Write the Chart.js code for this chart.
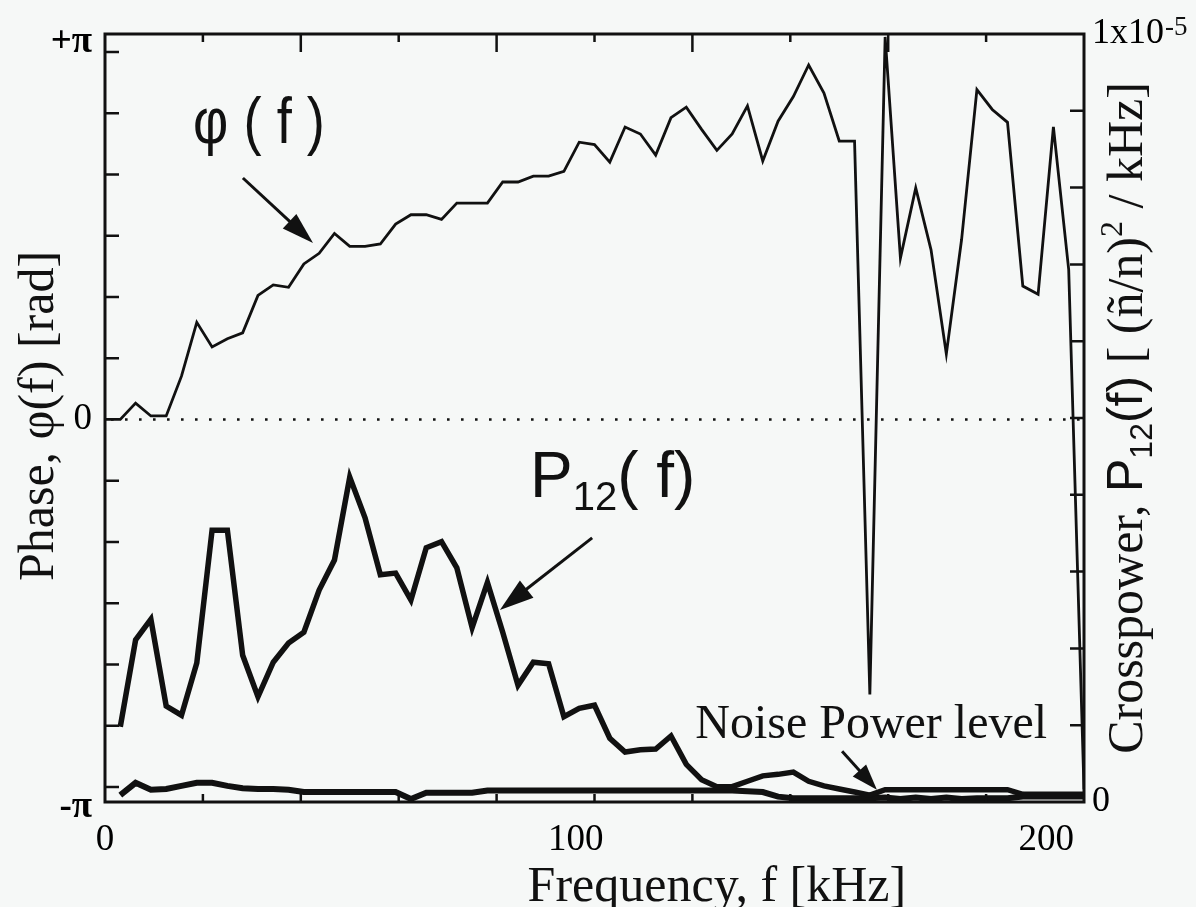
<!DOCTYPE html>
<html>
<head>
<meta charset="utf-8">
<script src="https://cdn.jsdelivr.net/npm/chart.js@4.4.1/dist/chart.umd.min.js"></script>
<style>
  html, body { margin: 0; padding: 0; background: #f6f8f7; }
  #wrap { width: 1196px; height: 907px; position: relative; }
</style>
</head>
<body>
<div id="wrap"><canvas id="chart"></canvas></div>
<script>
// frequency grid, kHz
const freqKHz = [0, 3.25, 6.5, 9.75, 13, 16.25, 19.5, 22.75, 26, 29.25,
  32.5, 35.75, 39, 42.25, 45.5, 48.75, 52, 55.25, 58.5, 61.75,
  65, 68.25, 71.5, 74.75, 78, 81.25, 84.5, 87.75, 91, 94.25,
  97.5, 100.75, 104, 107.25, 110.5, 113.75, 117, 120.25, 123.5, 126.75,
  130, 133.25, 136.5, 139.75, 143, 146.25, 149.5, 152.75, 156, 159.25,
  162.5, 165.75, 169, 172.25, 175.5, 178.75, 182, 185.25, 188.5, 191.75,
  195, 198.25, 201.5, 204.75, 208]
// phase phi(f), rad (left axis)
const phaseRad = [0, 0, 0.14, 0.03, 0.03, 0.37, 0.83, 0.62, 0.69, 0.74,
  1.06, 1.15, 1.13, 1.33, 1.42, 1.59, 1.48, 1.48, 1.50, 1.67,
  1.75, 1.75, 1.71, 1.85, 1.85, 1.85, 2.03, 2.03, 2.08, 2.08,
  2.12, 2.37, 2.35, 2.20, 2.50, 2.44, 2.26, 2.58, 2.67, 2.48,
  2.30, 2.44, 2.68, 2.21, 2.55, 2.76, 3.03, 2.79, 2.38, 2.38,
  -2.35, 3.27, 1.38, 1.98, 1.45, 0.56, 1.54, 2.82, 2.65, 2.54,
  1.14, 1.07, 2.50, 1.28, -3.16]
// crosspower P12(f), units of 1e-6 (n~/n)^2/kHz (right axis)
const crossPower = [null, 0.98, 2.11, 2.38, 1.25, 1.13, 1.81, 3.54, 3.54, 1.91,
  1.37, 1.82, 2.07, 2.21, 2.76, 3.15, 4.23, 3.70, 2.96, 2.98,
  2.63, 3.31, 3.39, 3.05, 2.27, 2.86, 2.21, 1.52, 1.82, 1.80,
  1.11, 1.22, 1.26, 0.83, 0.65, 0.68, 0.69, 0.86, 0.49, 0.29,
  0.20, 0.20, 0.27, 0.34, 0.36, 0.39, 0.27, 0.21, 0.17, 0.13,
  0.09, 0.16, 0.16, 0.16, 0.16, 0.16, 0.16, 0.16, 0.16, 0.16,
  0.10, 0.10, 0.10, 0.10, 0.10]
// noise power level, same units
const noisePower = [null, 0.09, 0.25, 0.16, 0.17, 0.21, 0.25, 0.25, 0.21, 0.18,
  0.17, 0.17, 0.16, 0.13, 0.13, 0.13, 0.13, 0.13, 0.13, 0.13,
  0.04, 0.12, 0.12, 0.12, 0.12, 0.15, 0.15, 0.15, 0.15, 0.15,
  0.15, 0.15, 0.15, 0.15, 0.15, 0.15, 0.15, 0.15, 0.15, 0.15,
  0.15, 0.15, 0.14, 0.13, 0.07, 0.05, 0.05, 0.05, 0.05, 0.05,
  0.05, 0.06, 0.04, 0.06, 0.04, 0.06, 0.04, 0.05, 0.05, 0.05,
  0.07, 0.07, 0.07, 0.07, 0.07]

const freqTicks = [0, 100, 200]
const freqTickLabels = ['0', '100', '200']
const phaseTicks = [-Math.PI, 0, Math.PI]
const phaseTickLabels = [['', '', '-π'], '0', ['+π', '']]
const powerTicks = [0, 10]
const powerTickLabels = ['0', '1x10']
const powerTopExponent = '-5'
const freqFrameTicks = [20.8, 41.6, 62.4, 83.2, 104, 124.8, 145.6, 166.4, 187.2]
const phaseFrameTicks = [-6, -5, -4, -3, -2, -1, 1, 2, 3, 4, 5, 6].map((k) => k * Math.PI / 6)
const powerFrameTicks = [1, 2, 3, 4, 5, 6, 7, 8, 9]

const SERIF = '"Liberation Serif", "Times New Roman", serif'
const SANS = '"Liberation Sans", Arial, sans-serif'
const INK = '#111'

const toPoints = (vals) => freqKHz.map((f, i) => ({ x: f, y: vals[i] }))

function arrow(ctx, x1, y1, x2, y2, head, half) {
  const a = Math.atan2(y2 - y1, x2 - x1)
  const bx = x2 - head * Math.cos(a)
  const by = y2 - head * Math.sin(a)
  ctx.beginPath()
  ctx.moveTo(x1, y1)
  ctx.lineTo(bx + 2 * Math.cos(a), by + 2 * Math.sin(a))
  ctx.stroke()
  ctx.beginPath()
  ctx.moveTo(x2, y2)
  ctx.lineTo(bx + half * Math.sin(a), by - half * Math.cos(a))
  ctx.lineTo(bx - half * Math.sin(a), by + half * Math.cos(a))
  ctx.closePath()
  ctx.fill()
}

function drawRuns(ctx, runs, x, y) {
  let cx = x
  runs.forEach((r) => {
    ctx.font = r.font
    ctx.fillText(r.t, cx, y + (r.dy || 0))
    cx += ctx.measureText(r.t).width
  })
}

function runsWidth(ctx, runs) {
  return runs.reduce((w, r) => { ctx.font = r.font; return w + ctx.measureText(r.t).width }, 0)
}

const frameAndNotes = {
  id: 'frameAndNotes',
  beforeDatasetsDraw(chart) {
    const { ctx, chartArea: a, scales: { y } } = chart
    const y0 = y.getPixelForValue(0)
    ctx.save()
    ctx.strokeStyle = INK
    ctx.lineWidth = 2.6
    ctx.setLineDash([2.6, 11.4])
    ctx.beginPath()
    ctx.moveTo(a.left + 6, y0)
    ctx.lineTo(a.right, y0)
    ctx.stroke()
    ctx.restore()
  },
  afterDatasetsDraw(chart) {
    const { ctx, chartArea: a, scales: { x, y, y2 } } = chart
    ctx.save()
    ctx.strokeStyle = INK
    ctx.fillStyle = INK
    ctx.lineWidth = 3
    ctx.strokeRect(a.left, a.top, a.right - a.left, a.bottom - a.top)
    ctx.lineWidth = 2.5
    ctx.beginPath()
    freqFrameTicks.forEach((f, i) => {
      const px = x.getPixelForValue(f)
      ctx.moveTo(px, a.bottom)
      ctx.lineTo(px, a.bottom - 8)
      ctx.moveTo(px, a.top)
      ctx.lineTo(px, a.top + (i % 2 === 1 ? 18 : 8))
    })
    phaseFrameTicks.forEach((v) => {
      const py = y.getPixelForValue(v)
      ctx.moveTo(a.left, py)
      ctx.lineTo(a.left + 14, py)
    })
    powerFrameTicks.forEach((v) => {
      const py = y2.getPixelForValue(v)
      ctx.moveTo(a.right, py)
      ctx.lineTo(a.right - 14, py)
    })
    ctx.stroke()

    // exponent of the top right tick label
    ctx.textBaseline = 'alphabetic'
    ctx.textAlign = 'left'
    ctx.font = `36px ${SERIF}`
    const baseW = ctx.measureText(powerTickLabels[1]).width
    ctx.font = `27px ${SERIF}`
    ctx.fillText(powerTopExponent, a.right + 9 + baseW, y2.getPixelForValue(10) + 1)

    // annotations, anchored in data units
    ctx.save()
    ctx.translate(x.getPixelForValue(18.7), y.getPixelForValue(2.36))
    ctx.scale(0.85, 1)
    ctx.font = `64px ${SANS}`
    ctx.fillText('φ ( f )', 0, 0)
    ctx.restore()

    ctx.lineWidth = 3
    arrow(ctx, x.getPixelForValue(29.3), y.getPixelForValue(2.064),
      x.getPixelForValue(44.2), y.getPixelForValue(1.508), 32, 10)

    drawRuns(ctx, [
      { t: 'P', font: `64px ${SANS}` },
      { t: '12', font: `40px ${SANS}`, dy: 13 },
      { t: '( f)', font: `64px ${SANS}` },
    ], x.getPixelForValue(90.3), y2.getPixelForValue(3.97))

    arrow(ctx, x.getPixelForValue(103.5), y2.getPixelForValue(3.44),
      x.getPixelForValue(83.9), y2.getPixelForValue(2.50), 34, 11)

    ctx.font = `48px ${SERIF}`
    ctx.fillText('Noise Power level', x.getPixelForValue(125.4), y2.getPixelForValue(0.83))
    arrow(ctx, x.getPixelForValue(156.6), y2.getPixelForValue(0.66),
      x.getPixelForValue(164.0), y2.getPixelForValue(0.16), 26, 9)

    // axis titles
    ctx.font = `50px ${SERIF}`
    ctx.textAlign = 'center'
    ctx.fillText('Frequency, f [kHz]', x.getPixelForValue(130), 901)

    ctx.save()
    ctx.translate(53, (a.top + a.bottom) / 2 - 2)
    ctx.rotate(-Math.PI / 2)
    ctx.fillText('Phase, φ(f) [rad]', 0, 0)
    ctx.restore()

    const rightRuns = [
      { t: 'Crosspower, ', font: `50px ${SERIF}` },
      { t: 'P', font: `50px ${SANS}` },
      { t: '12', font: `32px ${SANS}`, dy: 10 },
      { t: '(f)', font: `50px ${SANS}` },
      { t: ' [ (ñ/n)', font: `50px ${SERIF}` },
      { t: '2', font: `32px ${SERIF}`, dy: -20 },
      { t: ' / kHz]', font: `50px ${SERIF}` },
    ]
    ctx.textAlign = 'left'
    ctx.save()
    ctx.translate(1142, (a.top + a.bottom) / 2)
    ctx.rotate(-Math.PI / 2)
    drawRuns(ctx, rightRuns, -runsWidth(ctx, rightRuns) / 2, 0)
    ctx.restore()
    ctx.restore()
  },
}

new Chart(document.getElementById('chart'), {
  type: 'line',
  data: {
    datasets: [
      {
        label: 'phi(f)', data: toPoints(phaseRad), yAxisID: 'y',
        borderColor: INK, borderWidth: 2.8, pointRadius: 0, tension: 0,
      },
      {
        label: 'P12(f)', data: toPoints(crossPower), yAxisID: 'y2',
        borderColor: INK, borderWidth: 5.5, pointRadius: 0, tension: 0,
      },
      {
        label: 'Noise Power level', data: toPoints(noisePower), yAxisID: 'y2',
        borderColor: INK, borderWidth: 6, pointRadius: 0, tension: 0,
      },
    ],
  },
  options: {
    responsive: true,
    maintainAspectRatio: false,
    animation: false,
    events: [],
    layout: { padding: { top: 34, left: 0, right: 0, bottom: 0 } },
    plugins: { legend: { display: false }, tooltip: { enabled: false } },
    scales: {
      x: {
        type: 'linear', position: 'bottom', min: 0, max: 208,
        grid: { display: false, drawTicks: false },
        border: { display: false },
        afterBuildTicks: (s) => { s.ticks = freqTicks.map((v) => ({ value: v })) },
        afterFit: (s) => { s.height = 105 },
        ticks: {
          color: '#000', padding: 16, maxRotation: 0, autoSkip: false,
          font: { family: SERIF, size: 37 },
          callback: (v) => freqTickLabels[freqTicks.indexOf(v)],
        },
      },
      y: {
        type: 'linear', position: 'left', min: -3.27, max: 3.295,
        grid: { display: false, drawTicks: false },
        border: { display: false },
        afterBuildTicks: (s) => { s.ticks = phaseTicks.map((v) => ({ value: v })) },
        afterFit: (s) => { s.width = 105 },
        ticks: {
          color: '#000', padding: 13, autoSkip: false,
          font: (c) => ({ family: SERIF, size: 37, lineHeight: '20px', weight: c.tick && c.tick.value !== 0 ? 'bold' : 'normal' }),
          callback: (v) => phaseTickLabels[phaseTicks.indexOf(v)],
        },
      },
      y2: {
        type: 'linear', position: 'right', min: 0, max: 10,
        grid: { display: false, drawTicks: false },
        border: { display: false },
        afterBuildTicks: (s) => { s.ticks = powerTicks.map((v) => ({ value: v })) },
        afterFit: (s) => { s.width = 112 },
        ticks: {
          color: '#000', padding: 8, autoSkip: false,
          font: { family: SERIF, size: 36 },
          callback: (v) => powerTickLabels[powerTicks.indexOf(v)],
        },
      },
    },
  },
  plugins: [frameAndNotes],
})
</script>
</body>
</html>
